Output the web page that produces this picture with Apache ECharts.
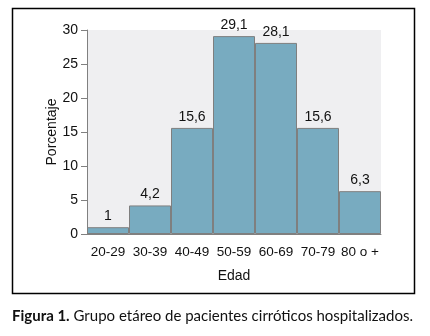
<!DOCTYPE html>
<html>
<head>
<meta charset="utf-8">
<script src="https://cdn.jsdelivr.net/npm/echarts@6/dist/echarts.min.js"></script>
<style>
  html, body { margin: 0; padding: 0; background: #fff; }
  #chart { width: 430px; height: 336px; }
</style>
</head>
<body>
<div id="chart"></div>
<script>
    'use strict';

    var ageGroups = [ '20-29', '30-39', '40-49', '50-59', '60-69', '70-79', '80 o +' ];
    var percentages = [ 1, 4.2, 15.6, 29.1, 28.1, 15.6, 6.3 ];
    var yTicks = { min : 0, max : 30, interval : 5 };

    var narrow = '"Liberation Sans Narrow", "Arial Narrow", "Liberation Sans", Arial, sans-serif';
    var ink = '#111';

    var chart = echarts.init(document.getElementById('chart'), null, {renderer: 'canvas'});

    var option = {
        animation : false,
        backgroundColor : '#fff',
        grid : {
            left : 87,
            right : 49,
            top : 30,
            bottom : 102,
            show : true,
            backgroundColor : '#efeff1',
            borderWidth : 0
        },
        xAxis : {
            type : 'category',
            data : ageGroups,
            name : 'Edad',
            nameLocation : 'middle',
            nameGap : 35,
            nameTextStyle : { fontFamily : narrow, fontSize : 14, color : ink },
            axisLine : { lineStyle : { color : '#808080', width : 1 } },
            axisTick : { show : false },
            axisLabel : { interval : 0, fontFamily : narrow, fontSize : 13.5, color : ink, margin : 11 }
        },
        yAxis : {
            type : 'value',
            min : yTicks.min,
            max : yTicks.max,
            interval : yTicks.interval,
            name : 'Porcentaje',
            nameLocation : 'middle',
            nameGap : 28,
            nameMoveOverlap : false,
            nameTextStyle : { fontFamily : narrow, fontSize : 14, color : ink },
            axisLine : { show : true, lineStyle : { color : '#808080', width : 1 } },
            axisTick : { show : true, length : 6, lineStyle : { color : '#808080' } },
            splitLine : { show : false },
            axisLabel : { fontFamily : narrow, fontSize : 14, color : ink, margin : 9 }
        },
        series : [
            {
                type : 'bar',
                data : percentages,
                barCategoryGap : 0,
                itemStyle : {
                    color : '#78abc0',
                    borderColor : '#7f7f7f',
                    borderWidth : 1
                },
                label : {
                    show : true,
                    position : 'top',
                    distance : 4,
                    fontFamily : narrow,
                    fontSize : 14,
                    color : ink,
                    formatter : function (p) {
                        return String(p.value).replace('.', ',');
                    }
                }
            }
        ],
        graphic : [
            {
                type : 'rect',
                shape : { x : 12.5, y : 8.5, width : 402, height : 285 },
                style : { fill : 'none', stroke : '#000', lineWidth : 1.5 },
                silent : true
            },
            {
                type : 'text',
                left : 12,
                top : 309,
                style : {
                    text : '{b|Figura 1.} Grupo etáreo de pacientes cirróticos hospitalizados.',
                    font : '15px Lato, "Open Sans", sans-serif',
                    fill : ink,
                    rich : {
                        b : { fontFamily : 'Lato', fontWeight : 'bold', fontSize : 15, fill : ink }
                    }
                }
            }
        ]
    };

    chart.setOption(option);
</script>
</body>
</html>
